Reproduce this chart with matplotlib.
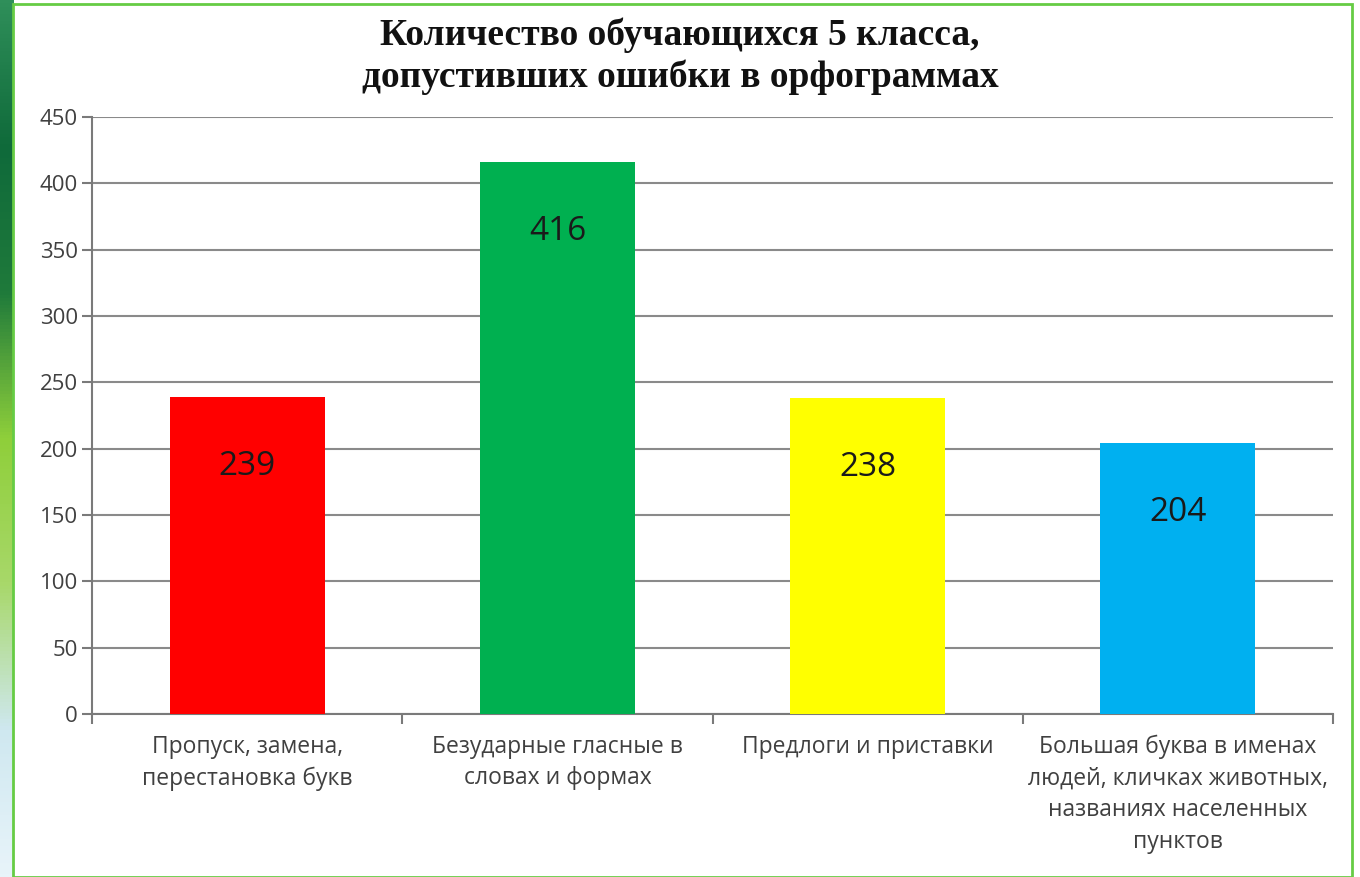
import numpy as np
import matplotlib.pyplot as plt
from matplotlib.patches import Rectangle
from matplotlib.colors import LinearSegmentedColormap

# Данные диаграммы
categories = [
    "Пропуск, замена,\nперестановка букв",
    "Безударные гласные в\nсловах и формах",
    "Предлоги и приставки",
    "Большая буква в именах\nлюдей, кличках животных,\nназваниях населенных\nпунктов",
]
values = [239, 416, 238, 204]
bar_colors = ["#ff0000", "#00b050", "#ffff00", "#00b0f0"]
y_ticks = [0, 50, 100, 150, 200, 250, 300, 350, 400, 450]

title = "Количество обучающихся 5 класса,\nдопустивших ошибки в орфограммах"

W, H = 1360, 877
fig = plt.figure(figsize=(W / 100, H / 100), dpi=100)
fig.patch.set_facecolor("white")

# Зелёная полоса слайда слева
bg = fig.add_axes([0, 0, 13 / W, 1])
grad = np.linspace(0, 1, 256).reshape(-1, 1)
cm_bg = LinearSegmentedColormap.from_list(
    "bg", ["#2f8f5a", "#0f6a3a", "#1f7a3a", "#8fcf3a", "#a8d86a", "#cfe8f0", "#e8f4fa"])
bg.imshow(grad, aspect="auto", cmap=cm_bg, extent=[0, 1, 0, 1])
bg.axis("off")

# Зелёная рамка
fig.add_artist(Rectangle((13 / W, 0), (1352 - 13) / W, (H - 4) / H,
                         transform=fig.transFigure, fill=False,
                         edgecolor="#66cc44", linewidth=2))

ax = fig.add_axes([92 / W, (H - 714) / H, (1333 - 92) / W, (714 - 117) / H])
x = np.arange(len(values))
ax.bar(x, values, width=0.5, color=bar_colors, zorder=3)

for xi, v in zip(x, values):
    ax.annotate(str(v), (xi, v), xytext=(0, -50), textcoords="offset points",
                ha="center", va="center", fontsize=24, color="#1a1a1a",
                family="Open Sans", zorder=4)

ax.set_xlim(-0.5, 3.5)
ax.set_ylim(0, 450)
ax.set_yticks(y_ticks)
ax.yaxis.grid(True, color="#8a8a8a", linewidth=1.5, zorder=1)
ax.set_axisbelow(True)

ax.set_xticks(x)
ax.set_xticklabels(categories, fontsize=16.5, color="#404040", family="Open Sans",
                   linespacing=1.42)
ax.tick_params(axis="x", length=0, pad=15)
ax.set_xticks(np.arange(-0.5, 4, 1), minor=True)
ax.tick_params(axis="x", which="minor", length=7, width=1.5, color="#7a7a7a")
ax.tick_params(axis="y", length=7, width=1.5, color="#7a7a7a", labelsize=16,
               labelcolor="#404040", pad=3)
for lab in ax.get_yticklabels():
    lab.set_family("Open Sans")

for s in ["top", "right"]:
    ax.spines[s].set_visible(False)
for s in ["left", "bottom"]:
    ax.spines[s].set_color("#7a7a7a")
    ax.spines[s].set_linewidth(1.5)

fig.text(680 / W, 1 - 56 / H, title, ha="center", va="center",
         fontsize=27, fontweight="bold", family="Liberation Serif",
         color="#111111", linespacing=1.25)

fig.savefig("out.png", dpi=100)
